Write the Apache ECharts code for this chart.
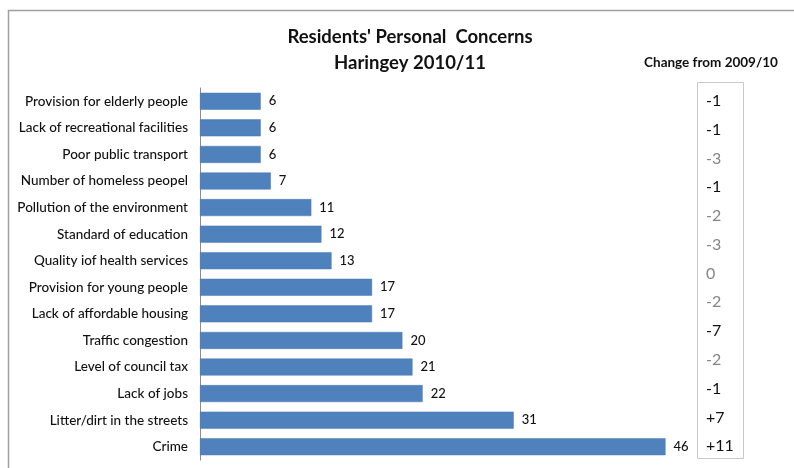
<!DOCTYPE html>
<html>
<head>
<meta charset="utf-8">
<script src="https://cdn.jsdelivr.net/npm/echarts@6/dist/echarts.min.js"></script>
<style>
  html, body { margin: 0; padding: 0; background: #fff; }
  #chart { width: 794px; height: 468px; }
</style>
</head>
<body>
<div id="chart"></div>
<script>
const categories = [
  'Provision for elderly people',
  'Lack of recreational facilities',
  'Poor public transport',
  'Number of homeless peopel',
  'Pollution of the environment',
  'Standard of education',
  'Quality iof health services',
  'Provision for young people',
  'Lack of affordable housing',
  'Traffic congestion',
  'Level of council tax',
  'Lack of jobs',
  'Litter/dirt in the streets',
  'Crime'
];
const concernPct = [6, 6, 6, 7, 11, 12, 13, 17, 17, 20, 21, 22, 31, 46];
// the side box in the source lists 13 figures, spaced on their own
const changeLabels = ['-1', '-1', '-3', '-1', '-2', '-3', '0', '-2', '-7', '-2', '-1', '+7', '+11'];

// some change figures are printed in a lighter grey in the original
const lightRows = [2, 4, 5, 6, 7, 9];

const chart = echarts.init(document.getElementById('chart'));

const option = {
  animation: false,
  backgroundColor: '#fff',
  textStyle: { fontFamily: 'Lato' },
  title: [
    {
      text: "Residents' Personal  Concerns\nHaringey 2010/11",
      left: 405,
      top: 19,
      textAlign: 'center',
      textStyle: { fontSize: 18.5, fontWeight: 'bold', color: '#111', lineHeight: 26, fontFamily: 'Lato' }
    },
    {
      text: 'Change from 2009/10',
      left: 706,
      top: 51,
      textAlign: 'center',
      textStyle: { fontSize: 13.5, fontWeight: 'bold', color: '#111', fontFamily: 'Lato' }
    }
  ],
  graphic: [
    {
      type: 'rect',
      shape: { x: 8.5, y: 10.5, width: 800, height: 470 },
      style: { fill: 'none', stroke: '#a0a0a0', lineWidth: 1.5 },
      silent: true
    },
    {
      type: 'rect',
      shape: { x: 697.5, y: 82.5, width: 46, height: 376 },
      style: { fill: 'none', stroke: '#c8c8c8', lineWidth: 1 },
      silent: true
    }
  ],
  grid: [
    { left: 200, right: 88, top: 88, height: 372 },
    { left: 697, width: 46, top: 86.5, height: 374 }
  ],
  xAxis: [
    { type: 'value', min: 0, max: 50, show: false },
    { type: 'value', gridIndex: 1, show: false }
  ],
  yAxis: [
    {
      type: 'category',
      data: categories,
      inverse: true,
      axisLine: { show: true, lineStyle: { color: '#8c8c8c', width: 1 } },
      axisTick: { show: false },
      axisLabel: { margin: 12, fontSize: 13.5, color: '#111', fontFamily: 'Lato', fontWeight: 500 }
    },
    {
      type: 'category',
      gridIndex: 1,
      data: changeLabels,
      inverse: true,
      axisLine: { show: false },
      axisTick: { show: false },
      axisLabel: {
        inside: true,
        margin: 9,
        align: 'left',
        fontSize: 16,
        fontFamily: 'Lato',
        color: (value, index) => (lightRows.indexOf(index) >= 0 ? '#858585' : '#111')
      }
    }
  ],
  series: [
    {
      type: 'bar',
      data: concernPct,
      barWidth: 17,
      itemStyle: { color: '#4f81bd', borderColor: '#4a7ab3', borderWidth: 0.5 },
      label: {
        show: true,
        position: 'right',
        distance: 8,
        fontSize: 13,
        color: '#111',
        fontFamily: 'Lato',
        fontWeight: 500
      }
    }
  ]
};

chart.setOption(option);
</script>
</body>
</html>
